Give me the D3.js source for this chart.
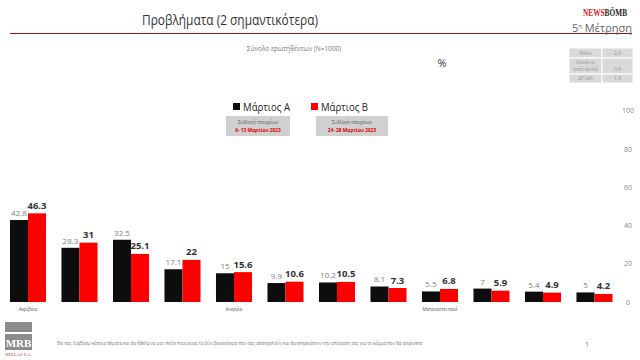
<!DOCTYPE html>
<html><head><meta charset="utf-8">
<script src="https://cdn.jsdelivr.net/npm/d3@7"></script>
<style>
html,body{margin:0;padding:0;background:#fff;}
svg{display:block;font-family:"Open Sans","Noto Sans",sans-serif;}
</style></head>
<body><svg id="c" width="640" height="360"></svg>
<script>
const categories = ["Ακρίβεια","","","","Ανεργία","","","","Μεταναστευτικό","","",""];
const seriesNames = ["Μάρτιος Α","Μάρτιος Β"];
const seriesA = [42.8,28.3,32.5,17.1,15,9.9,10.2,8.1,5.5,7,5.4,5];
const seriesB = [46.3,31,25.1,22,15.6,10.6,10.5,7.3,6.8,5.9,4.9,4.2];
const yTicks = [0,20,40,60,80,100];
const periods = ["6- 13 Μαρτίου 2023","24- 28 Μαρτίου 2023"];
const tableLabels = [["Άλλο"],["Κανένα","από αυτά"],["ΔΓ/ΔΑ"]];
const tableValues = ["2,6","0,6","1,8"];

const svg = d3.select("#c");
const colors = ["#0d0d0d","#ff0000"];

const x = d3.scaleBand().domain(d3.range(categories.length)).range([2.25,620.25]).paddingInner(0.3).paddingOuter(0.15);
const xs = d3.scaleBand().domain([0,1]).range([0,x.bandwidth()]);
const y = d3.scaleLinear().domain([0,100]).range([302,110.5]);

// Title
svg.append("text").attr("x",230).attr("y",25).attr("text-anchor","middle")
  .attr("font-size",15).attr("fill","#333")
  .attr("textLength",176).attr("lengthAdjust","spacingAndGlyphs")
  .text("Προβλήματα (2 σημαντικότερα)");
svg.append("line").attr("x1",10).attr("x2",632).attr("y1",33.5).attr("y2",33.5)
  .attr("stroke","#8b1a1a").attr("stroke-width",1);

// NewsBomb
const nbg = svg.append("g").attr("transform","translate(583,16) scale(0.7,1)");
const nbt = nbg.append("text").attr("x",0).attr("y",0)
  .attr("font-family","'Liberation Serif',serif").attr("font-weight","bold").attr("font-size",10.5);
nbt.append("tspan").attr("fill","#d71920").text("NEWS");
nbt.append("tspan").attr("fill","#222").text("BÖMB");
const mt = svg.append("text").attr("x",632).attr("y",32).attr("text-anchor","end").attr("font-size",11).attr("fill","#666");
mt.append("tspan").text("5");
mt.append("tspan").attr("font-size",6).attr("dy",-4).text("η");
mt.append("tspan").attr("dy",4).text(" Μέτρηση");

// subtitle
svg.append("text").attr("x",294).attr("y",51).attr("text-anchor","middle").attr("font-size",6.5).attr("fill","#777")
  .text("Σύνολο ερωτηθέντων (N=1000)");
svg.append("text").attr("x",442).attr("y",67).attr("text-anchor","middle").attr("font-size",11).attr("fill","#333").text("%");

// table
const tx0=569, tx1=602, tx2=633;
const rowY=[[48,58],[58,74],[74,83]];
rowY.forEach((r,i)=>{
  svg.append("rect").attr("x",tx0).attr("y",r[0]).attr("width",tx1-tx0).attr("height",r[1]-r[0]).attr("fill","#d9d9d9").attr("stroke","#fff").attr("stroke-width",1);
  svg.append("rect").attr("x",tx1).attr("y",r[0]).attr("width",tx2-tx1).attr("height",r[1]-r[0]).attr("fill","#d9d9d9").attr("stroke","#fff").attr("stroke-width",1);
  const lines = tableLabels[i];
  lines.forEach((l,j)=>{
    svg.append("text").attr("x",(tx0+tx1)/2).attr("y",r[1]-3-(lines.length-1-j)*7).attr("text-anchor","middle")
      .attr("font-size",5.5).attr("fill","#999").text(l);
  });
  svg.append("text").attr("x",(tx1+tx2)/2).attr("y",r[1]-3).attr("text-anchor","middle").attr("font-size",5.5).attr("fill","#999").text(tableValues[i]);
});

// legend
const legX=[233,311];
seriesNames.forEach((s,i)=>{
  svg.append("rect").attr("x",legX[i]).attr("y",103).attr("width",7).attr("height",7).attr("fill",colors[i]);
  svg.append("text").attr("x",legX[i]+10).attr("y",111).attr("font-size",11.5).attr("fill","#222")
    .attr("textLength",47).attr("lengthAdjust","spacingAndGlyphs").text(s);
});
const boxes=[[226,290],[316,388]];
boxes.forEach((b,i)=>{
  svg.append("rect").attr("x",b[0]).attr("y",116).attr("width",b[1]-b[0]).attr("height",20).attr("fill","#d0d0d0");
  svg.append("text").attr("x",(b[0]+b[1])/2).attr("y",124).attr("text-anchor","middle").attr("font-size",4.5).attr("fill","#555").text("Συλλογή στοιχείων");
  svg.append("text").attr("x",(b[0]+b[1])/2).attr("y",132).attr("text-anchor","middle").attr("font-size",4.8).attr("font-weight","bold").attr("fill","#e00000").text(periods[i]);
});

// y axis ticks
const ax = svg.append("g").attr("transform","translate(628,0)")
  .call(d3.axisRight(y).tickValues(yTicks).tickSize(0).tickPadding(0));
ax.select(".domain").remove();
ax.selectAll("text").attr("text-anchor","middle").attr("fill","#888").attr("font-size",7).attr("font-family","'Open Sans',sans-serif");

// bars
const series=[seriesA,seriesB];
const g = svg.append("g");
series.forEach((vals,si)=>{
  g.selectAll(".b"+si).data(vals).enter().append("rect")
    .attr("x",(d,i)=>x(i)+xs(si)).attr("width",xs.bandwidth())
    .attr("y",d=>y(d)).attr("height",d=>y(0)-y(d)).attr("fill",colors[si]);
  g.selectAll(".l"+si).data(vals).enter().append("text")
    .attr("x",(d,i)=>x(i)+xs(si)+xs.bandwidth()/2)
    .attr("y",d=>y(d)-(si?4.5:4))
    .attr("text-anchor","middle")
    .attr("font-size",si?9.5:8).attr("font-weight",si?"bold":"normal")
    .attr("fill",si?"#333":"#808080")
    .text(d=>String(d));
});

// category labels
g.selectAll(".cat").data(categories).enter().append("text")
  .attr("x",(d,i)=>x(i)+x.bandwidth()/2).attr("y",311).attr("text-anchor","middle")
  .attr("font-size",4.5).attr("fill","#555").text(d=>d);

// footer
svg.append("rect").attr("x",5).attr("y",322).attr("width",27).attr("height",10).attr("fill","#8c8c8c");
svg.append("rect").attr("x",5).attr("y",334).attr("width",27).attr("height",16).attr("fill","#8c8c8c");
svg.append("text").attr("x",18.5).attr("y",347).attr("text-anchor","middle").attr("font-family","'Liberation Serif',serif")
  .attr("font-weight","bold").attr("font-size",11).attr("fill","#fff").text("MRB");
svg.append("text").attr("x",18.5).attr("y",356).attr("text-anchor","middle").attr("font-family","'Liberation Serif',serif")
  .attr("font-size",4.5).attr("fill","#b04050").text("HELLAS S.A.");
svg.append("text").attr("x",57).attr("y",345).attr("font-size",4.6).attr("fill","#777")
  .attr("textLength",366).attr("lengthAdjust","spacingAndGlyphs")
  .text("Θα σας διαβάσω κάποια θέματα και θα ήθελα να μου πείτε ποια είναι τα δύο βασικότερα που σας απασχολούν και θα επηρεάσουν την απόφαση σας για το κόμμα που θα ψηφίσετε;");
svg.append("text").attr("x",587).attr("y",347).attr("text-anchor","middle").attr("font-size",7).attr("fill","#777").text("1");
</script></body></html>
